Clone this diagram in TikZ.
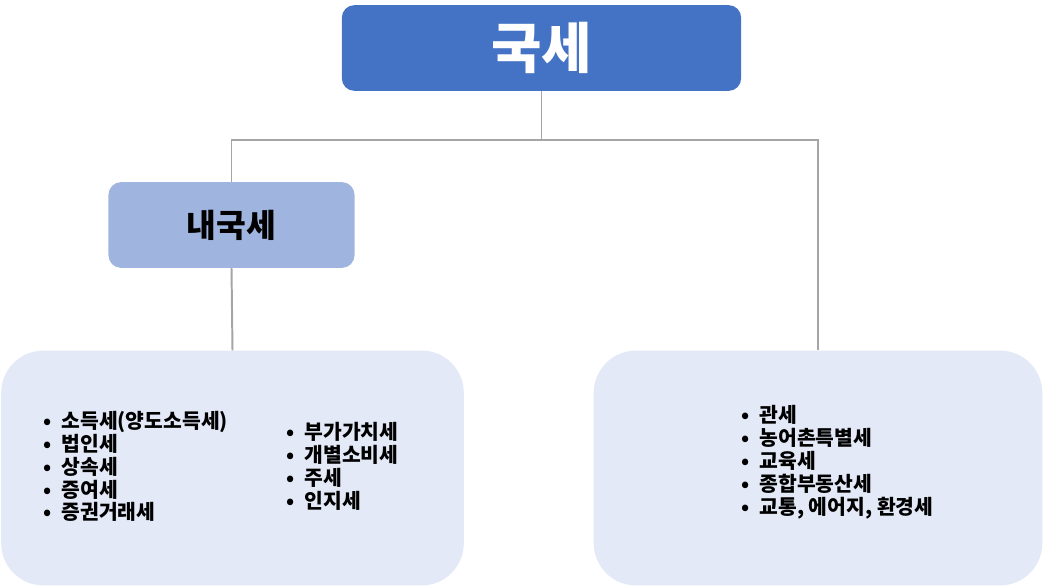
\documentclass[tikz,border=0pt]{standalone}
\usepackage{fontspec}
\setmainfont{Noto Sans CJK KR}
\definecolor{topblue}{HTML}{4472C4}
\definecolor{midblue}{HTML}{9FB5E0}
\definecolor{paleblue}{HTML}{E3E9F6}
\definecolor{linegray}{HTML}{A5A5A5}
\newcommand{\itm}[1]{\makebox[13pt][l]{•}#1}
\tikzset{
  headbox/.style={rounded corners=9pt, inner sep=0pt, fill=topblue, text=white,
    minimum width=284pt, minimum height=61pt, font=\fontsize{39}{44}\selectfont\bfseries},
  subbox/.style={rounded corners=9pt, inner sep=0pt, fill=midblue,
    minimum width=175pt, minimum height=61pt, font=\fontsize{23}{27}\selectfont\bfseries},
  groupbox/.style={rounded corners=30pt, inner sep=0pt, fill=paleblue,
    minimum width=#1, minimum height=167pt},
  itemlist/.style={anchor=west, align=left, inner sep=0pt,
    font=\fontsize{14.5}{16.3}\selectfont\bfseries},
  link/.style={draw=linegray, line width=1.4pt}
}
\begin{document}
\begin{tikzpicture}[x=0.025cm, y=-0.025cm]
    \useasboundingbox (0,0) rectangle (1045,587);
    \node[headbox] (national) at (541.5,48) {국세};
    \node[subbox] (internal) at (231.5,225) {내국세};
    \node[groupbox=329pt] (domestic) at (232.5,468) {};
    \node[groupbox=319pt] (customs) at (818,468) {};
    \coordinate (split) at (541.5,140);
    \draw[link] (national.south) -- (split);
    \draw[link] (split) -| (internal.north);
    \draw[link] (split) -| (customs.north);
    \draw[link] (internal.south) -- (domestic.north);
    \node[itemlist] (incomelist) at (43,466.5) {\itm{소득세(양도소득세)}\\ \itm{법인세}\\ \itm{상속세}\\ \itm{증여세}\\ \itm{증권거래세}};
    \node[itemlist] (consumelist) at (286,466.5) {\itm{부가가치세}\\ \itm{개별소비세}\\ \itm{주세}\\ \itm{인지세}};
    \node[itemlist] (customslist) at (741,462.5) {\itm{관세}\\ \itm{농어촌특별세}\\ \itm{교육세}\\ \itm{종합부동산세}\\ \itm{교통, 에어지, 환경세}};
  \end{tikzpicture}
\end{document}
